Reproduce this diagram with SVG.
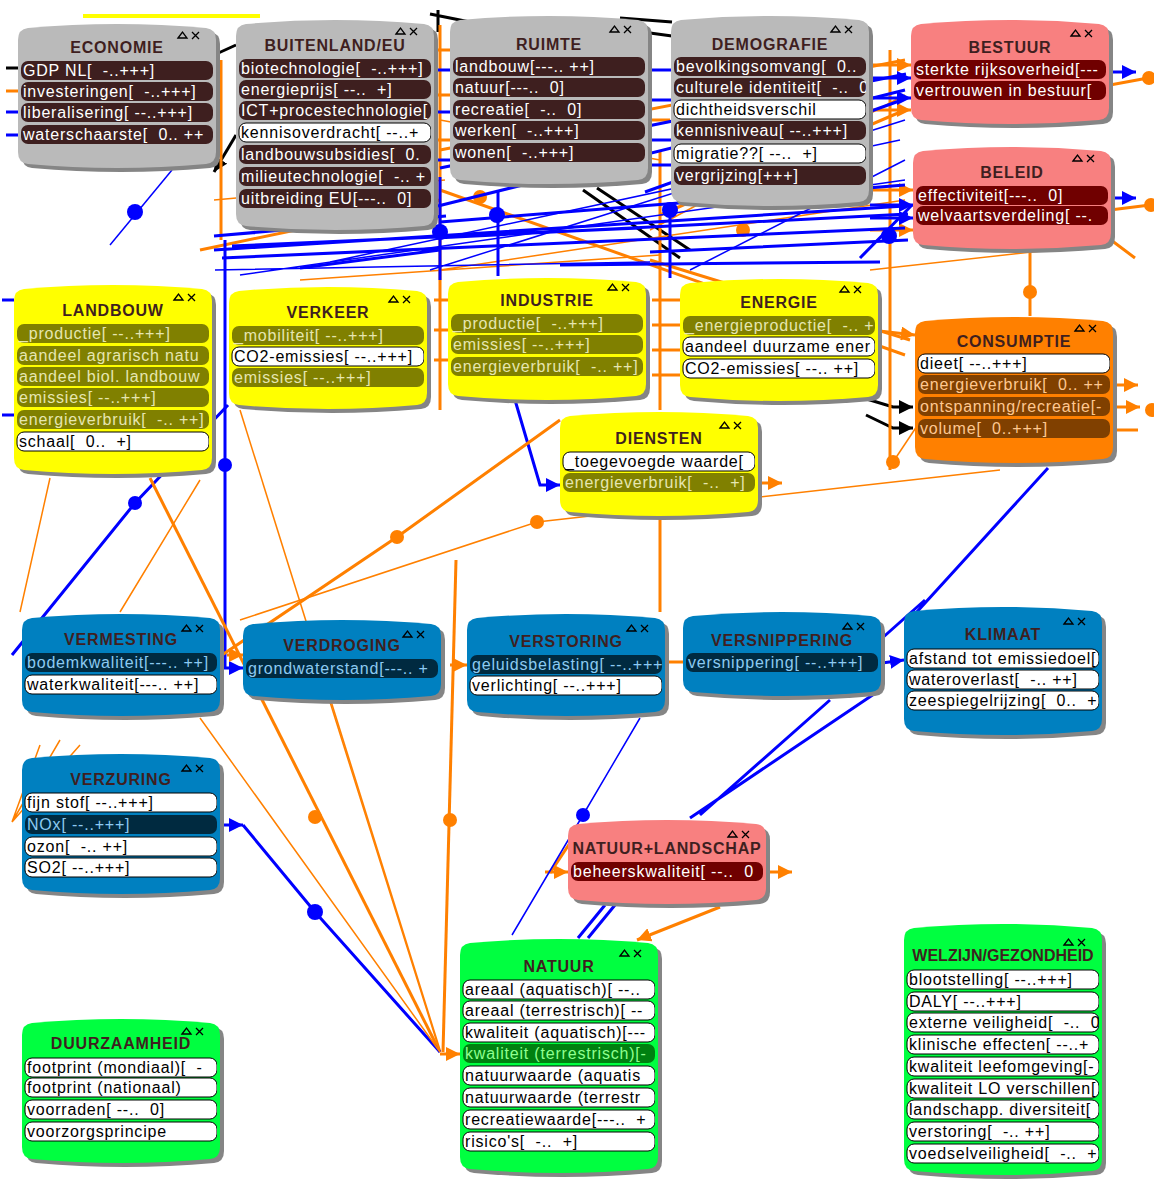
<svg xmlns="http://www.w3.org/2000/svg" width="1154" height="1180" viewBox="0 0 1154 1180">
<style>
text{font-family:"Liberation Sans",Arial,sans-serif}
.tt{font-size:16px;font-weight:bold;fill:#3f1f1f;text-anchor:middle;letter-spacing:0.8px}
.tx{font-size:16px;letter-spacing:0.8px;white-space:pre}
.sh{fill:#858585}
.gray .bd{fill:#bababa} .gray .it{fill:#3e1f1f} .gray .tx{fill:#ffffff}
.red .bd{fill:#f88080} .red .it{fill:#700000} .red .tx{fill:#ffffff}
.yel .bd{fill:#ffff00} .yel .it{fill:#808000} .yel .tx{fill:#e6e6b0}
.org .bd{fill:#ff8000} .org .it{fill:#804000} .org .tx{fill:#ffc890}
.blu .bd{fill:#0080c0} .blu .it{fill:#002a40} .blu .tx{fill:#8ccaf2}
.grn .bd{fill:#00ff40} .grn .it{fill:#008010} .grn .tx{fill:#90ff90}
.node rect.w{fill:#ffffff;stroke:#000;stroke-width:1}
.node text.w{fill:#000000}
.ic{fill:none;stroke:#000;stroke-width:1.3}
.co{fill:none;stroke:#ff8000;stroke-width:3}
.ct{fill:none;stroke:#ff8000;stroke-width:1.5}
.cb{fill:none;stroke:#0000ff;stroke-width:3}
.cbt{fill:none;stroke:#0000ff;stroke-width:1.5}
.ck{fill:none;stroke:#000;stroke-width:3}
.cy{fill:none;stroke:#ffff00;stroke-width:4}
.do{fill:#ff8000} .db{fill:#0000ff}
</style>
<defs>
<marker id="mo" viewBox="0 0 10 10" refX="10" refY="5" markerWidth="14" markerHeight="14" markerUnits="userSpaceOnUse" orient="auto"><path d="M0,0 L10,5 L0,10 Z" fill="#ff8000"/></marker>
<marker id="mb" viewBox="0 0 10 10" refX="10" refY="5" markerWidth="14" markerHeight="14" markerUnits="userSpaceOnUse" orient="auto"><path d="M0,0 L10,5 L0,10 Z" fill="#0000ff"/></marker>
<marker id="mk" viewBox="0 0 10 10" refX="10" refY="5" markerWidth="14" markerHeight="14" markerUnits="userSpaceOnUse" orient="auto"><path d="M0,0 L10,5 L0,10 Z" fill="#000"/></marker>
<clipPath id="cw"><rect x="2" y="0" width="193" height="300"/></clipPath>
<g id="icons" class="ic"><path d="M0,7 L4.5,1 L9,7 Z"/><path d="M14,1 L21,8 M21,1 L14,8"/></g>
<path id="s148" d="M0,18 Q0,7 10,6 Q99,-2 188,6 Q198,7 198,18 L198,130 Q198,141 188,142 Q99,150 10,142 Q0,141 0,130 Z"/>
<path id="s214" d="M0,18 Q0,7 10,6 Q99,-2 188,6 Q198,7 198,18 L198,196 Q198,207 188,208 Q99,216 10,208 Q0,207 0,196 Z"/>
<path id="s172" d="M0,18 Q0,7 10,6 Q99,-2 188,6 Q198,7 198,18 L198,154 Q198,165 188,166 Q99,174 10,166 Q0,165 0,154 Z"/>
<path id="s194" d="M0,18 Q0,7 10,6 Q99,-2 188,6 Q198,7 198,18 L198,176 Q198,187 188,188 Q99,196 10,188 Q0,187 0,176 Z"/>
<path id="s108" d="M0,18 Q0,7 10,6 Q99,-2 188,6 Q198,7 198,18 L198,90 Q198,101 188,102 Q99,110 10,102 Q0,101 0,90 Z"/>
<path id="s106" d="M0,18 Q0,7 10,6 Q99,-2 188,6 Q198,7 198,18 L198,88 Q198,99 188,100 Q99,108 10,100 Q0,99 0,88 Z"/>
<path id="s193" d="M0,18 Q0,7 10,6 Q99,-2 188,6 Q198,7 198,18 L198,175 Q198,186 188,187 Q99,195 10,187 Q0,186 0,175 Z"/>
<path id="s126" d="M0,18 Q0,7 10,6 Q99,-2 188,6 Q198,7 198,18 L198,108 Q198,119 188,120 Q99,128 10,120 Q0,119 0,108 Z"/>
<path id="s150" d="M0,18 Q0,7 10,6 Q99,-2 188,6 Q198,7 198,18 L198,132 Q198,143 188,144 Q99,152 10,144 Q0,143 0,132 Z"/>
<path id="s84" d="M0,18 Q0,7 10,6 Q99,-2 188,6 Q198,7 198,18 L198,66 Q198,77 188,78 Q99,86 10,78 Q0,77 0,66 Z"/>
<path id="s88" d="M0,18 Q0,7 10,6 Q99,-2 188,6 Q198,7 198,18 L198,70 Q198,81 188,82 Q99,90 10,82 Q0,81 0,70 Z"/>
<path id="s132" d="M0,18 Q0,7 10,6 Q99,-2 188,6 Q198,7 198,18 L198,114 Q198,125 188,126 Q99,134 10,126 Q0,125 0,114 Z"/>
<path id="s144" d="M0,18 Q0,7 10,6 Q99,-2 188,6 Q198,7 198,18 L198,126 Q198,137 188,138 Q99,146 10,138 Q0,137 0,126 Z"/>
<path id="s238" d="M0,18 Q0,7 10,6 Q99,-2 188,6 Q198,7 198,18 L198,220 Q198,231 188,232 Q99,240 10,232 Q0,231 0,220 Z"/>
<path id="s255" d="M0,18 Q0,7 10,6 Q99,-2 188,6 Q198,7 198,18 L198,237 Q198,248 188,249 Q99,257 10,249 Q0,248 0,237 Z"/>
</defs>
<rect width="1154" height="1180" fill="#ffffff"/>

<g id="connectors">
<path class="cy" d="M83,16 L260,16"/>
<path class="ck" d="M430,14 L470,22 M438,10 L438,32 M620,18 L672,22 M650,33 L672,36 M214,55 L236,45"/>
<path class="ck" d="M236,135 L214,172" marker-end="url(#mk)"/>
<path class="ck" d="M583,190 L680,258 M597,188 L690,250"/>
<path class="ck" d="M860,397 L893,407 L913,407" marker-end="url(#mk)"/>
<path class="ck" d="M866,415 L893,428 L913,428" marker-end="url(#mk)"/>
<path class="ck" d="M6,68 L18,68"/>
<path class="co" d="M6,91 L18,91"/>
<path class="cb" d="M6,112 L18,112 M6,135 L18,135 M2,300 L14,300 M2,415 L14,415"/>
<!-- orange upper -->
<path class="co" d="M221,60 L221,240 M440,25 L440,410 M660,150 L660,410 M890,50 L890,470"/>
<path class="co" d="M200,250 L440,200 M440,150 L905,60 M660,215 L905,110 M650,260 L910,340 M440,190 L905,355"/>
<path class="ct" d="M440,270 L905,200 M214,200 L445,180 M440,120 L660,160 M870,270 L1050,250 M650,230 L905,95 M300,280 L660,255"/>
<path class="co" d="M434,50 L450,50 M434,95 L450,95 M434,140 L450,140 M434,300 L448,300 M434,330 L448,330 M434,360 L448,360 M652,120 L670,120 M652,300 L680,300 M652,325 L680,325 M652,350 L680,350 M652,375 L680,375"/>
<path class="co" d="M870,65 L911,65" marker-end="url(#mo)"/>
<path class="co" d="M870,110 L911,110" marker-end="url(#mo)"/>
<path class="co" d="M870,190 L913,190" marker-end="url(#mo)"/>
<path class="co" d="M870,230 L913,230" marker-end="url(#mo)"/>
<path class="co" d="M870,330 L915,335" marker-end="url(#mo)"/>
<path class="cb" d="M870,78 L911,78" marker-end="url(#mb)"/>
<path class="cb" d="M870,98 L911,98" marker-end="url(#mb)"/>
<path class="cb" d="M870,205 L913,205" marker-end="url(#mb)"/>
<path class="cb" d="M870,218 L913,218" marker-end="url(#mb)"/>
<path class="cb" d="M436,70 L452,70 M436,112 L452,112 M436,160 L452,160 M648,70 L672,70 M648,100 L672,100 M648,140 L672,140 M648,165 L672,165"/>
<path class="co" d="M1030,252 L1030,316"/>
<circle class="do" cx="1030" cy="292" r="7"/>
<circle class="do" cx="480" cy="197" r="7"/>
<circle class="do" cx="743" cy="230" r="7"/>
<!-- blue upper -->
<path class="cb" d="M214,250 L905,206 M222,258 L905,228 M232,246 L640,228 M436,238 L908,214 M438,206 L905,90 M440,168 L906,74 M645,192 L902,100 M214,236 L446,216 M650,252 L908,240 M860,258 L912,205 M300,268 L440,250 M440,222 L905,185 M560,265 L880,262"/>
<path class="cbt" d="M240,275 L905,180 M430,270 L905,120 M690,270 L905,160 M215,270 L650,262 M330,262 L900,140"/>
<path class="cb" d="M440,177 L440,280 M498,190 L498,276 M670,210 L670,278"/>
<path class="cb" d="M225,240 L225,668 L243,668" marker-end="url(#mb)"/>
<circle class="db" cx="440" cy="232" r="8"/>
<circle class="db" cx="497" cy="215" r="8"/>
<circle class="db" cx="670" cy="210" r="8"/>
<circle class="db" cx="889" cy="236" r="8"/>
<circle class="db" cx="135" cy="212" r="8"/>
<circle class="db" cx="225" cy="465" r="7"/>
<!-- right side -->
<path class="cb" d="M1110,72 L1136,72" marker-end="url(#mb)"/>
<path class="cb" d="M1110,198 L1136,198" marker-end="url(#mb)"/>
<path class="co" d="M1110,85 L1148,78 M1110,210 L1150,205 M1111,240 L1135,258"/>
<circle class="do" cx="1149" cy="78" r="7"/>
<circle class="do" cx="1151" cy="205" r="7"/>
<path class="co" d="M1112,385 L1138,385" marker-end="url(#mo)"/>
<path class="co" d="M1112,407 L1140,407" marker-end="url(#mo)"/>
<path class="co" d="M1112,430 L1138,430"/>
<circle class="do" cx="1152" cy="410" r="7"/>
<!-- middle -->
<path class="cbt" d="M172,170 L110,245"/>
<path class="cb" d="M12,655 L135,503 L228,405"/>
<circle class="db" cx="135" cy="503" r="7"/>
<path class="cb" d="M515,400 L540,485 L560,485" marker-end="url(#mb)"/>
<path class="co" d="M150,478 L440,1052"/>
<circle class="do" cx="315" cy="817" r="7"/>
<path class="ct" d="M240,410 L440,1050"/>
<path class="co" d="M456,560 L443,1052"/>
<circle class="do" cx="450" cy="820" r="7"/>
<path class="co" d="M222,655 L397,537 L560,420"/>
<circle class="do" cx="397" cy="537" r="7"/>
<path class="ct" d="M240,620 L537,522 L1000,470"/>
<circle class="do" cx="537" cy="522" r="7"/>
<path class="co" d="M660,517 L660,612"/>
<path class="co" d="M758,483 L782,483" marker-end="url(#mo)"/>
<path class="ct" d="M50,478 L20,612 M200,480 L120,612"/>
<circle class="do" cx="893" cy="462" r="7"/>
<path class="ct" d="M893,462 L923,417"/>
<!-- lower -->
<path class="cb" d="M220,825 L243,825" marker-end="url(#mb)"/>
<path class="cb" d="M243,825 L315,912 L440,1052"/>
<circle class="db" cx="315" cy="912" r="8"/>
<path class="ct" d="M200,718 L440,1052 M330,702 L440,1052"/>
<path class="co" d="M440,1054 L460,1054" marker-end="url(#mo)"/>
<path class="co" d="M545,872 L568,872" marker-end="url(#mo)"/>
<path class="co" d="M550,873 L570,843"/>
<path class="co" d="M766,872 L792,872" marker-end="url(#mo)"/>
<path class="co" d="M720,907 L637,940" marker-end="url(#mo)"/>
<path class="cb" d="M880,690 L690,818 M830,700 L700,815"/>
<path class="cb" d="M605,905 L578,938 M615,905 L588,938"/>
<path class="cbt" d="M512,935 L583,815 L640,718"/>
<circle class="db" cx="583" cy="815" r="7"/>
<path class="cb" d="M882,663 L904,660" marker-end="url(#mb)"/>
<path class="cb" d="M880,640 L925,600 M905,625 L1048,468"/>
<path class="ct" d="M12,822 L60,740 M12,822 L80,745 M12,822 L40,745"/>
<path class="co" d="M227,655 L243,655" marker-end="url(#mo)"/>
<path class="co" d="M450,665 L467,665" marker-end="url(#mo)"/>
<path class="co" d="M664,662 L683,662"/>
</g>

<g id="n-economie" class="node gray" transform="translate(18,22)">
<use href="#s148" class="sh" x="4" y="4"/><use href="#s148" class="bd"/>
<text class="tt" x="99" y="31">ECONOMIE</text><use href="#icons" x="160" y="9"/>
<g clip-path="url(#cw)">
<rect class="it" x="3" y="39" width="192" height="19" rx="7"/><text class="tx" x="5" y="54">GDP NL[  -..+++]</text>
<rect class="it" x="3" y="60" width="192" height="19" rx="7"/><text class="tx" x="5" y="75">investeringen[  -..+++]</text>
<rect class="it" x="3" y="81" width="192" height="19" rx="7"/><text class="tx" x="5" y="96">liberalisering[ --..+++]</text>
<rect class="it" x="3" y="103" width="192" height="19" rx="7"/><text class="tx" x="5" y="118">waterschaarste[  0.. ++</text>
</g></g>

<g id="n-buitenland" class="node gray" transform="translate(236,18)">
<use href="#s214" class="sh" x="4" y="4"/><use href="#s214" class="bd"/>
<text class="tt" x="99" y="33">BUITENLAND/EU</text><use href="#icons" x="160" y="9"/>
<g clip-path="url(#cw)">
<rect class="it" x="3" y="41" width="192" height="19" rx="7"/><text class="tx" x="5" y="56">biotechnologie[  -..+++]</text>
<rect class="it" x="3" y="62" width="192" height="19" rx="7"/><text class="tx" x="5" y="77">energieprijs[ --..  +]</text>
<rect class="it" x="3" y="83" width="192" height="19" rx="7"/><text class="tx" x="5" y="98">ICT+procestechnologie[</text>
<rect class="it w" x="3" y="105" width="192" height="19" rx="7"/><text class="tx w" x="5" y="120">kennisoverdracht[ --..+</text>
<rect class="it" x="3" y="127" width="192" height="19" rx="7"/><text class="tx" x="5" y="142">landbouwsubsidies[  0.</text>
<rect class="it" x="3" y="149" width="192" height="19" rx="7"/><text class="tx" x="5" y="164">milieutechnologie[  -.. +</text>
<rect class="it" x="3" y="171" width="192" height="19" rx="7"/><text class="tx" x="5" y="186">uitbreiding EU[---..  0]</text>
</g></g>

<g id="n-ruimte" class="node gray" transform="translate(450,14)">
<use href="#s172" class="sh" x="4" y="4"/><use href="#s172" class="bd"/>
<text class="tt" x="99" y="36">RUIMTE</text><use href="#icons" x="160" y="11"/>
<g clip-path="url(#cw)">
<rect class="it" x="3" y="43" width="192" height="19" rx="7"/><text class="tx" x="5" y="58">landbouw[---.. ++]</text>
<rect class="it" x="3" y="64" width="192" height="19" rx="7"/><text class="tx" x="5" y="79">natuur[---..  0]</text>
<rect class="it" x="3" y="86" width="192" height="19" rx="7"/><text class="tx" x="5" y="101">recreatie[  -..  0]</text>
<rect class="it" x="3" y="107" width="192" height="19" rx="7"/><text class="tx" x="5" y="122">werken[  -..+++]</text>
<rect class="it" x="3" y="129" width="192" height="19" rx="7"/><text class="tx" x="5" y="144">wonen[  -..+++]</text>
</g></g>

<g id="n-demografie" class="node gray" transform="translate(671,14)">
<use href="#s194" class="sh" x="4" y="4"/><use href="#s194" class="bd"/>
<text class="tt" x="99" y="36">DEMOGRAFIE</text><use href="#icons" x="160" y="11"/>
<g clip-path="url(#cw)">
<rect class="it" x="3" y="43" width="192" height="19" rx="7"/><text class="tx" x="5" y="58">bevolkingsomvang[  0..</text>
<rect class="it" x="3" y="64" width="192" height="19" rx="7"/><text class="tx" x="5" y="79">culturele identiteit[  -..  0</text>
<rect class="it w" x="3" y="86" width="192" height="19" rx="7"/><text class="tx w" x="5" y="101">dichtheidsverschil</text>
<rect class="it" x="3" y="107" width="192" height="19" rx="7"/><text class="tx" x="5" y="122">kennisniveau[ --..+++]</text>
<rect class="it w" x="3" y="130" width="192" height="19" rx="7"/><text class="tx w" x="5" y="145">migratie??[ --..  +]</text>
<rect class="it" x="3" y="152" width="192" height="19" rx="7"/><text class="tx" x="5" y="167">vergrijzing[+++]</text>
</g></g>

<g id="n-bestuur" class="node red" transform="translate(911,18)">
<use href="#s108" class="sh" x="4" y="4"/><use href="#s108" class="bd"/>
<text class="tt" x="99" y="35">BESTUUR</text><use href="#icons" x="160" y="11"/>
<g clip-path="url(#cw)">
<rect class="it" x="3" y="42" width="192" height="19" rx="7"/><text class="tx" x="5" y="57">sterkte rijksoverheid[---</text>
<rect class="it" x="3" y="63" width="192" height="19" rx="7"/><text class="tx" x="5" y="78">vertrouwen in bestuur[</text>
</g></g>

<g id="n-beleid" class="node red" transform="translate(913,145)">
<use href="#s106" class="sh" x="4" y="4"/><use href="#s106" class="bd"/>
<text class="tt" x="99" y="33">BELEID</text><use href="#icons" x="160" y="9"/>
<g clip-path="url(#cw)">
<rect class="it" x="3" y="41" width="192" height="19" rx="7"/><text class="tx" x="5" y="56">effectiviteit[---..  0]</text>
<rect class="it" x="3" y="61" width="192" height="19" rx="7"/><text class="tx" x="5" y="76">welvaartsverdeling[ --.</text>
</g></g>

<g id="n-landbouw" class="node yel" transform="translate(14,283)">
<use href="#s193" class="sh" x="4" y="4"/><use href="#s193" class="bd"/>
<text class="tt" x="99" y="33">LANDBOUW</text><use href="#icons" x="160" y="10"/>
<g clip-path="url(#cw)">
<rect class="it" x="3" y="41" width="192" height="19" rx="7"/><text class="tx" x="5" y="56">_productie[ --..+++]</text>
<rect class="it" x="3" y="63" width="192" height="19" rx="7"/><text class="tx" x="5" y="78">aandeel agrarisch natu</text>
<rect class="it" x="3" y="84" width="192" height="19" rx="7"/><text class="tx" x="5" y="99">aandeel biol. landbouw</text>
<rect class="it" x="3" y="105" width="192" height="19" rx="7"/><text class="tx" x="5" y="120">emissies[ --..+++]</text>
<rect class="it" x="3" y="127" width="192" height="19" rx="7"/><text class="tx" x="5" y="142">energieverbruik[  -.. ++]</text>
<rect class="it w" x="3" y="149" width="192" height="19" rx="7"/><text class="tx w" x="5" y="164">schaal[  0..  +]</text>
</g></g>

<g id="n-verkeer" class="node yel" transform="translate(229,285)">
<use href="#s126" class="sh" x="4" y="4"/><use href="#s126" class="bd"/>
<text class="tt" x="99" y="33">VERKEER</text><use href="#icons" x="160" y="10"/>
<g clip-path="url(#cw)">
<rect class="it" x="3" y="41" width="192" height="19" rx="7"/><text class="tx" x="5" y="56">_mobiliteit[ --..+++]</text>
<rect class="it w" x="3" y="62" width="192" height="19" rx="7"/><text class="tx w" x="5" y="77">CO2-emissies[ --..+++]</text>
<rect class="it" x="3" y="83" width="192" height="19" rx="7"/><text class="tx" x="5" y="98">emissies[ --..+++]</text>
</g></g>

<g id="n-industrie" class="node yel" transform="translate(448,276)">
<use href="#s126" class="sh" x="4" y="4"/><use href="#s126" class="bd"/>
<text class="tt" x="99" y="30">INDUSTRIE</text><use href="#icons" x="160" y="7"/>
<g clip-path="url(#cw)">
<rect class="it" x="3" y="38" width="192" height="19" rx="7"/><text class="tx" x="5" y="53">_productie[  -..+++]</text>
<rect class="it" x="3" y="59" width="192" height="19" rx="7"/><text class="tx" x="5" y="74">emissies[ --..+++]</text>
<rect class="it" x="3" y="81" width="192" height="19" rx="7"/><text class="tx" x="5" y="96">energieverbruik[  -.. ++]</text>
</g></g>

<g id="n-energie" class="node yel" transform="translate(680,277)">
<use href="#s126" class="sh" x="4" y="4"/><use href="#s126" class="bd"/>
<text class="tt" x="99" y="31">ENERGIE</text><use href="#icons" x="160" y="8"/>
<g clip-path="url(#cw)">
<rect class="it" x="3" y="39" width="192" height="19" rx="7"/><text class="tx" x="5" y="54">_energieproductie[  -.. +</text>
<rect class="it w" x="3" y="60" width="192" height="19" rx="7"/><text class="tx w" x="5" y="75">aandeel duurzame ener</text>
<rect class="it w" x="3" y="82" width="192" height="19" rx="7"/><text class="tx w" x="5" y="97">CO2-emissies[ --.. ++]</text>
</g></g>

<g id="n-diensten" class="node yel" transform="translate(560,410)">
<use href="#s108" class="sh" x="4" y="4"/><use href="#s108" class="bd"/>
<text class="tt" x="99" y="34">DIENSTEN</text><use href="#icons" x="160" y="11"/>
<g clip-path="url(#cw)">
<rect class="it w" x="3" y="42" width="192" height="19" rx="7"/><text class="tx w" x="5" y="57">_toegevoegde waarde[</text>
<rect class="it" x="3" y="63" width="192" height="19" rx="7"/><text class="tx" x="5" y="78">energieverbruik[  -..  +]</text>
</g></g>

<g id="n-consumptie" class="node org" transform="translate(915,315)">
<use href="#s150" class="sh" x="4" y="4"/><use href="#s150" class="bd"/>
<text class="tt" x="99" y="32">CONSUMPTIE</text><use href="#icons" x="160" y="9"/>
<g clip-path="url(#cw)">
<rect class="it w" x="3" y="39" width="192" height="19" rx="7"/><text class="tx w" x="5" y="54">dieet[ --..+++]</text>
<rect class="it" x="3" y="60" width="192" height="19" rx="7"/><text class="tx" x="5" y="75">energieverbruik[  0.. ++</text>
<rect class="it" x="3" y="82" width="192" height="19" rx="7"/><text class="tx" x="5" y="97">ontspanning/recreatie[-</text>
<rect class="it" x="3" y="104" width="192" height="19" rx="7"/><text class="tx" x="5" y="119">volume[  0..+++]</text>
</g></g>

<g id="n-vermesting" class="node blu" transform="translate(22,612)">
<use href="#s106" class="sh" x="4" y="4"/><use href="#s106" class="bd"/>
<text class="tt" x="99" y="33">VERMESTING</text><use href="#icons" x="160" y="12"/>
<g clip-path="url(#cw)">
<rect class="it" x="3" y="41" width="192" height="19" rx="7"/><text class="tx" x="5" y="56">bodemkwaliteit[---.. ++]</text>
<rect class="it w" x="3" y="63" width="192" height="19" rx="7"/><text class="tx w" x="5" y="78">waterkwaliteit[---.. ++]</text>
</g></g>

<g id="n-verdroging" class="node blu" transform="translate(243,618)">
<use href="#s84" class="sh" x="4" y="4"/><use href="#s84" class="bd"/>
<text class="tt" x="99" y="33">VERDROGING</text><use href="#icons" x="160" y="12"/>
<g clip-path="url(#cw)">
<rect class="it" x="3" y="41" width="192" height="19" rx="7"/><text class="tx" x="5" y="56">grondwaterstand[---.. +</text>
</g></g>

<g id="n-verstoring" class="node blu" transform="translate(467,612)">
<use href="#s106" class="sh" x="4" y="4"/><use href="#s106" class="bd"/>
<text class="tt" x="99" y="35">VERSTORING</text><use href="#icons" x="160" y="12"/>
<g clip-path="url(#cw)">
<rect class="it" x="3" y="43" width="192" height="19" rx="7"/><text class="tx" x="5" y="58">geluidsbelasting[ --..+++</text>
<rect class="it w" x="3" y="64" width="192" height="19" rx="7"/><text class="tx w" x="5" y="79">verlichting[ --..+++]</text>
</g></g>

<g id="n-versnippering" class="node blu" transform="translate(683,610)">
<use href="#s88" class="sh" x="4" y="4"/><use href="#s88" class="bd"/>
<text class="tt" x="99" y="36">VERSNIPPERING</text><use href="#icons" x="160" y="12"/>
<g clip-path="url(#cw)">
<rect class="it" x="3" y="43" width="192" height="19" rx="7"/><text class="tx" x="5" y="58">versnippering[ --..+++]</text>
</g></g>

<g id="n-klimaat" class="node blu" transform="translate(904,605)">
<use href="#s132" class="sh" x="4" y="4"/><use href="#s132" class="bd"/>
<text class="tt" x="99" y="35">KLIMAAT</text><use href="#icons" x="160" y="12"/>
<g clip-path="url(#cw)">
<rect class="it w" x="3" y="44" width="192" height="19" rx="7"/><text class="tx w" x="5" y="59">afstand tot emissiedoel[</text>
<rect class="it w" x="3" y="65" width="192" height="19" rx="7"/><text class="tx w" x="5" y="80">wateroverlast[  -.. ++]</text>
<rect class="it w" x="3" y="86" width="192" height="19" rx="7"/><text class="tx w" x="5" y="101">zeespiegelrijzing[  0..  +</text>
</g></g>

<g id="n-verzuring" class="node blu" transform="translate(22,752)">
<use href="#s144" class="sh" x="4" y="4"/><use href="#s144" class="bd"/>
<text class="tt" x="99" y="33">VERZURING</text><use href="#icons" x="160" y="12"/>
<g clip-path="url(#cw)">
<rect class="it w" x="3" y="41" width="192" height="19" rx="7"/><text class="tx w" x="5" y="56">fijn stof[ --..+++]</text>
<rect class="it" x="3" y="63" width="192" height="19" rx="7"/><text class="tx" x="5" y="78">NOx[ --..+++]</text>
<rect class="it w" x="3" y="85" width="192" height="19" rx="7"/><text class="tx w" x="5" y="100">ozon[  -.. ++]</text>
<rect class="it w" x="3" y="106" width="192" height="19" rx="7"/><text class="tx w" x="5" y="121">SO2[ --..+++]</text>
</g></g>

<g id="n-natuurlandschap" class="node red" transform="translate(568,818)">
<use href="#s88" class="sh" x="4" y="4"/><use href="#s88" class="bd"/>
<text class="tt" x="99" y="36">NATUUR+LANDSCHAP</text><use href="#icons" x="160" y="12"/>
<g clip-path="url(#cw)">
<rect class="it" x="3" y="44" width="192" height="19" rx="7"/><text class="tx" x="5" y="59">beheerskwaliteit[ --..  0</text>
</g></g>

<g id="n-natuur" class="node grn" transform="translate(460,937)">
<use href="#s238" class="sh" x="4" y="4"/><use href="#s238" class="bd"/>
<text class="tt" x="99" y="35">NATUUR</text><use href="#icons" x="160" y="12"/>
<g clip-path="url(#cw)">
<rect class="it w" x="3" y="43" width="192" height="19" rx="7"/><text class="tx w" x="5" y="58">areaal (aquatisch)[ --..</text>
<rect class="it w" x="3" y="64" width="192" height="19" rx="7"/><text class="tx w" x="5" y="79">areaal (terrestrisch)[ --</text>
<rect class="it w" x="3" y="86" width="192" height="19" rx="7"/><text class="tx w" x="5" y="101">kwaliteit (aquatisch)[---</text>
<rect class="it" x="3" y="107" width="192" height="19" rx="7"/><text class="tx" x="5" y="122">kwaliteit (terrestrisch)[-</text>
<rect class="it w" x="3" y="129" width="192" height="19" rx="7"/><text class="tx w" x="5" y="144">natuurwaarde (aquatis</text>
<rect class="it w" x="3" y="151" width="192" height="19" rx="7"/><text class="tx w" x="5" y="166">natuurwaarde (terrestr</text>
<rect class="it w" x="3" y="173" width="192" height="19" rx="7"/><text class="tx w" x="5" y="188">recreatiewaarde[---..  +</text>
<rect class="it w" x="3" y="195" width="192" height="19" rx="7"/><text class="tx w" x="5" y="210">risico's[  -..  +]</text>
</g></g>

<g id="n-duurzaamheid" class="node grn" transform="translate(22,1017)">
<use href="#s148" class="sh" x="4" y="4"/><use href="#s148" class="bd"/>
<text class="tt" x="99" y="32">DUURZAAMHEID</text><use href="#icons" x="160" y="10"/>
<g clip-path="url(#cw)">
<rect class="it w" x="3" y="41" width="192" height="19" rx="7"/><text class="tx w" x="5" y="56">footprint (mondiaal)[  -</text>
<rect class="it w" x="3" y="61" width="192" height="19" rx="7"/><text class="tx w" x="5" y="76">footprint (nationaal)</text>
<rect class="it w" x="3" y="83" width="192" height="19" rx="7"/><text class="tx w" x="5" y="98">voorraden[ --..  0]</text>
<rect class="it w" x="3" y="105" width="192" height="19" rx="7"/><text class="tx w" x="5" y="120">voorzorgsprincipe</text>
</g></g>

<g id="n-welzijn" class="node grn" transform="translate(904,922)">
<use href="#s255" class="sh" x="4" y="4"/><use href="#s255" class="bd"/>
<text class="tt" x="99" y="39" style="letter-spacing:0">WELZIJN/GEZONDHEID</text><use href="#icons" x="160" y="16"/>
<g clip-path="url(#cw)">
<rect class="it w" x="3" y="48" width="192" height="19" rx="7"/><text class="tx w" x="5" y="63">blootstelling[ --..+++]</text>
<rect class="it w" x="3" y="70" width="192" height="19" rx="7"/><text class="tx w" x="5" y="85">DALY[ --..+++]</text>
<rect class="it w" x="3" y="91" width="192" height="19" rx="7"/><text class="tx w" x="5" y="106">externe veiligheid[  -..  0</text>
<rect class="it w" x="3" y="113" width="192" height="19" rx="7"/><text class="tx w" x="5" y="128">klinische effecten[ --..+</text>
<rect class="it w" x="3" y="135" width="192" height="19" rx="7"/><text class="tx w" x="5" y="150">kwaliteit leefomgeving[-</text>
<rect class="it w" x="3" y="157" width="192" height="19" rx="7"/><text class="tx w" x="5" y="172">kwaliteit LO verschillen[</text>
<rect class="it w" x="3" y="178" width="192" height="19" rx="7"/><text class="tx w" x="5" y="193">landschapp. diversiteit[</text>
<rect class="it w" x="3" y="200" width="192" height="19" rx="7"/><text class="tx w" x="5" y="215">verstoring[  -.. ++]</text>
<rect class="it w" x="3" y="222" width="192" height="19" rx="7"/><text class="tx w" x="5" y="237">voedselveiligheid[  -..  +</text>
</g></g>
</svg>
